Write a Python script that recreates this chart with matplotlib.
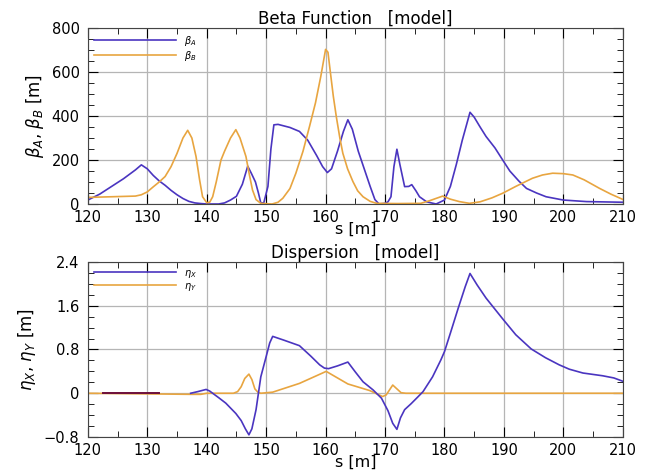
import matplotlib.pyplot as plt
from matplotlib.ticker import MultipleLocator

# beta functions [m]
s_beta_a = [120, 122, 124, 126, 128, 129, 130, 131, 132, 133, 134, 135, 136, 137, 138,
            139, 140, 142, 143, 144, 145, 146, 146.9, 147.5, 148.2, 148.7, 149.1, 149.6,
            150.3, 150.8, 151.3, 152, 154, 155.6, 157, 158.5, 159.5, 160.3, 161, 162, 163,
            163.75, 164.5, 165.5, 166.5, 167.5, 168.3, 169, 170, 170.5, 171.0, 171.5, 172,
            172.5, 173.3, 174, 174.5, 175.2, 175.8, 177, 178.6, 180, 181, 182, 183, 184.3,
            185, 186, 187, 188.5, 189.8, 191, 192.5, 193.8, 195.5, 197.1, 200, 203.9, 210]
beta_a = [18, 45, 80, 115, 155, 178, 160, 130, 105, 85, 62, 42, 25, 12, 5,
          2, 0, 0, 5, 18, 35, 90, 172, 140, 100, 50, 5, 5,
          80, 250, 360, 362, 348, 330, 290, 220, 170, 143, 160, 240, 330,
          383, 340, 240, 160, 80, 20, 0, 3, 10, 33, 170, 249,
          180, 79, 80, 88, 60, 33, 10, 0, 18, 80, 180, 290, 417,
          395, 350, 307, 255, 200, 150, 105, 71, 50, 33, 18, 11, 8]

s_beta_b = [120, 124, 128, 129, 130, 131, 132, 133, 134, 135, 136, 136.8, 137.5, 138.2,
            138.8, 139.3, 140, 140.5, 141.0, 141.6, 142.4, 143, 144, 144.9, 145.6, 146.6,
            147.2, 147.7, 148.3, 149.1, 151, 152, 152.8, 154, 155, 156.2, 157.3, 158.3,
            159.2, 160, 160.4, 160.8, 161.3, 161.8, 162.4, 162.9, 163.7, 164.6, 165.4,
            166.3, 167.5, 168.6, 172, 176, 177.5, 179.7, 181, 182.5, 184.2, 186, 188,
            189.8, 192, 194.8, 196.5, 198.2, 200, 201.6, 203.5, 206.1, 208, 210]
beta_b = [30, 33, 36, 42, 55, 78, 100, 125, 170, 230, 300, 335, 300, 216,
          110, 33, 6, 8, 33, 100, 200, 240, 300, 338, 300, 216,
          130, 64, 20, 3, 0, 8, 26, 70, 140, 240, 353, 460,
          581, 703, 690, 600, 490, 398, 300, 231, 160, 102, 60,
          33, 12, 3, 2, 3, 15, 36, 22, 11, 3, 10, 28,
          49, 80, 117, 132, 140, 138, 132, 110, 71, 45, 21]

# dispersion [m]
s_eta_x = [137.3, 138.5, 139.9, 140.5, 141.0, 142, 143.2, 144.9, 145.8, 146.5, 147.1,
           147.6, 148.0, 148.3, 148.7, 149.1, 150.0, 150.6, 151.1, 153, 155.6, 157.5,
           159, 159.8, 160.5, 162, 163.75, 165, 166.3, 168, 169.4, 170.5, 171.3, 172.0,
           172.6, 173.3, 174.4, 175.5, 176.4, 178, 179.4, 180.0, 181, 182.3, 183.5,
           184.3, 185.5, 187.0, 189.8, 192, 194.6, 197, 199.3, 201, 203.3, 206.6,
           208.5, 210]
eta_x = [0.0, 0.03, 0.07, 0.04, 0.0, -0.08, -0.18, -0.37, -0.50, -0.65, -0.76,
         -0.65, -0.45, -0.30, 0.0, 0.30, 0.67, 0.92, 1.04, 0.97, 0.87, 0.68,
         0.52, 0.46, 0.45, 0.50, 0.57, 0.39, 0.21, 0.06, -0.09, -0.32, -0.55, -0.66,
         -0.45, -0.30, -0.19, -0.07, 0.03, 0.30, 0.61, 0.76, 1.10, 1.55, 1.95,
         2.19, 1.98, 1.74, 1.36, 1.07, 0.81, 0.65, 0.52, 0.44, 0.37, 0.32,
         0.28, 0.22]

s_eta_y = [120, 137.5, 139, 140, 144.5, 145.2, 145.8, 146.4, 147.1, 147.6, 148.1, 148.6,
           149.1, 151.1, 155.6, 160.1, 163.75, 167.4, 169.6, 170.2, 171.3, 172.7, 173.5,
           210]
eta_y = [0, -0.02, -0.02, 0, 0, 0.03, 0.12, 0.27, 0.35, 0.25, 0.08, 0.02,
         0, 0.02, 0.18, 0.40, 0.17, 0.05, -0.06, -0.03, 0.15, 0.01, 0,
         0]

s_eta_seg = [122.5, 132]
eta_seg = [0, 0]

blue = '#4a35c0'
orange = '#e8a540'

plt.rcParams['font.family'] = 'DejaVu Sans'
fig = plt.figure(figsize=(6.46, 4.73), dpi=100)
ax1 = fig.add_axes([0.136, 0.5687, 0.828, 0.372])
ax2 = fig.add_axes([0.136, 0.0761, 0.828, 0.370])

ax1.plot(s_beta_a, beta_a, color=blue, lw=1.2, label=r'$\beta_A$')
ax1.plot(s_beta_b, beta_b, color=orange, lw=1.2, label=r'$\beta_B$')
ax1.set_ylim(0, 800)
ax1.yaxis.set_major_locator(MultipleLocator(200))
ax1.yaxis.set_minor_locator(MultipleLocator(50))
ax1.set_title('Beta Function   [model]', fontsize=12, pad=3)
ax1.set_ylabel(r'$\beta_A$, $\beta_B$ [m]', fontsize=12)

ax2.plot(s_eta_y, eta_y, color=orange, lw=1.2)
ax2.plot(s_eta_x, eta_x, color=blue, lw=1.2)
ax2.plot(s_eta_seg, eta_seg, color='#6d0e3a', lw=1.4)
ax2.plot([], [], color=blue, lw=1.2, label=r'$\eta_X$')
ax2.plot([], [], color=orange, lw=1.2, label=r'$\eta_Y$')
ax2.set_ylim(-0.8, 2.4)
ax2.set_yticks([-0.8, 0, 0.8, 1.6, 2.4])
ax2.set_yticklabels(['\u22120.8', '0', '0.8', '1.6', '2.4'])
ax2.yaxis.set_minor_locator(MultipleLocator(0.2))
ax2.set_title('Dispersion   [model]', fontsize=12, pad=3)
ax2.set_ylabel(r'$\eta_X$, $\eta_Y$ [m]', fontsize=12)

for ax in (ax1, ax2):
    ax.set_xlim(120, 210)
    ax.xaxis.set_major_locator(MultipleLocator(10))
    ax.xaxis.set_minor_locator(MultipleLocator(5))
    ax.grid(True, which='major', color='#b5b5b5', lw=0.9)
    ax.tick_params(which='both', direction='in', top=True, right=True, labelsize=10.5)
    ax.tick_params(axis='x', pad=4)
    ax.tick_params(axis='y', pad=6)
    ax.tick_params(which='major', length=7)
    ax.tick_params(which='minor', length=4)
    ax.set_xlabel('s [m]', fontsize=11.5, labelpad=-2)
    for sp in ax.spines.values():
        sp.set_color('#444444')
    ax.legend(loc='upper left', frameon=False, fontsize=7, handlelength=8.5,
              borderaxespad=0.2, labelspacing=0.1)

fig.savefig('out.png', dpi=100)
